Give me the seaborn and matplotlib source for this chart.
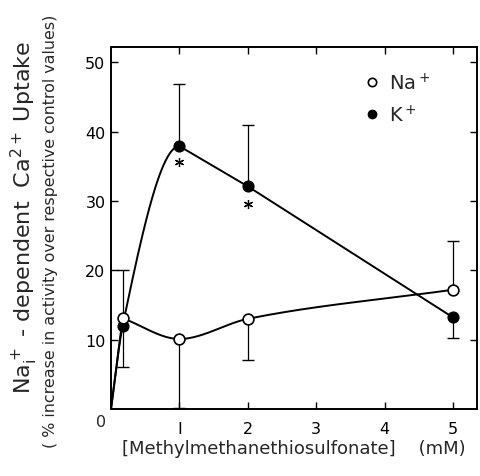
import numpy as np
import matplotlib
matplotlib.use("Agg")
import matplotlib.pyplot as plt
import seaborn as sns
from matplotlib.lines import Line2D

# ---- data ----
conc = [0.17, 1.0, 2.0, 5.0]
na_vals = [13.1, 10.1, 13.0, 17.2]
na_err_up = [6.9, 0.0, 0.0, 7.0]
na_err_down = [0.0, 10.0, 6.0, 0.0]
k_vals = [12.0, 37.9, 32.1, 13.2]
k_err_up = [0.0, 9.0, 8.8, 0.0]
k_err_down = [6.0, 0.0, 0.0, 3.0]
sig_x = [1.0, 2.0]
sig_y = [35.6, 29.5]
xticks = [1, 2, 3, 4, 5]
yticks = [10, 20, 30, 40, 50]


def pchip(x, y, xs):
    x = np.asarray(x, float); y = np.asarray(y, float)
    h = np.diff(x); d = np.diff(y) / h
    n = len(x); m = np.zeros(n)
    m[0] = d[0]; m[-1] = d[-1]
    for k in range(1, n - 1):
        if d[k - 1] * d[k] <= 0:
            m[k] = 0.0
        else:
            w1 = 2 * h[k] + h[k - 1]; w2 = h[k] + 2 * h[k - 1]
            m[k] = (w1 + w2) / (w1 / d[k - 1] + w2 / d[k])
    xs = np.asarray(xs, float)
    idx = np.clip(np.searchsorted(x, xs) - 1, 0, n - 2)
    t = (xs - x[idx]) / h[idx]
    h00 = 2 * t**3 - 3 * t**2 + 1; h10 = t**3 - 2 * t**2 + t
    h01 = -2 * t**3 + 3 * t**2; h11 = t**3 - t**2
    return h00 * y[idx] + h10 * h[idx] * m[idx] + h01 * y[idx + 1] + h11 * h[idx] * m[idx + 1]


sns.set_theme(style="ticks")
plt.rcParams["font.family"] = ["DejaVu Sans"]

fig = plt.figure(figsize=(4.8, 4.77), dpi=100)
ax = fig.add_axes([111 / 480, 1 - 410 / 477, 366 / 480, 362 / 477])

# K+ curve: smooth from origin to peak, straight afterwards
kx_all = [0.0] + conc
ky_all = [0.0] + k_vals
xs1 = np.linspace(0, conc[1], 200)
ys1 = pchip(kx_all, ky_all, xs1)
kx_line = np.concatenate([xs1, conc[2:]])
ky_line = np.concatenate([ys1, k_vals[2:]])
sns.lineplot(x=kx_line, y=ky_line, ax=ax, color="black", lw=1.4, sort=False, estimator=None)

# Na+ curve: straight from origin to first point, smooth afterwards
xs2 = np.linspace(conc[0], conc[-1], 300)
ys2 = pchip(conc, na_vals, xs2)
na_x_line = np.concatenate([[0.0], xs2])
na_y_line = np.concatenate([[0.0], ys2])
sns.lineplot(x=na_x_line, y=na_y_line, ax=ax, color="black", lw=1.4, sort=False, estimator=None)

# error bars (one-sided)
cap_ms = 9
for vals, up, dn in [(na_vals, na_err_up, na_err_down), (k_vals, k_err_up, k_err_down)]:
    v = np.array(vals); u = np.array(up); d = np.array(dn)
    ax.errorbar(conc, v, yerr=[d, u], fmt="none", ecolor="black", elinewidth=0.9, capsize=0, zorder=2)
    mu = u > 0; md = d > 0
    ax.plot(np.array(conc)[mu], (v + u)[mu], ls="none", marker="_", ms=cap_ms, mew=1.0, color="black", zorder=2)
    ax.plot(np.array(conc)[md], (v - d)[md], ls="none", marker="_", ms=cap_ms, mew=1.0, color="black", zorder=2)

# markers
sns.scatterplot(x=conc, y=k_vals, ax=ax, s=60, color="black", edgecolor="black", linewidth=1.0, zorder=4)
sns.scatterplot(x=conc, y=na_vals, ax=ax, s=60, color="white", edgecolor="black", linewidth=1.2, zorder=5)

# significance asterisks
ax.plot(sig_x, sig_y, ls="none", marker=(6, 2, 0), ms=6.5, mew=0.9, color="black")

ax.set_xlim(0, 5.35)
ax.set_ylim(0, 52.2)
ax.set_xticks(xticks)
ax.set_xticklabels(["I", "2", "3", "4", "5"])
ax.set_yticks(yticks)
ax.tick_params(direction="in", top=True, right=True, length=5, width=1.0,
               labelsize=11.5, colors="black", pad=4)
ax.tick_params(axis="x", pad=9)
for s in ax.spines.values():
    s.set_linewidth(1.4)
    s.set_color("black")
ax.text(-0.012, -0.015, "0", transform=ax.transAxes, ha="right", va="top", fontsize=11.5)

# legend
handles = [Line2D([], [], ls="none", marker="o", ms=6, mfc="white", mec="black", mew=1.2),
           Line2D([], [], ls="none", marker="o", ms=6, mfc="black", mec="black")]
ax.legend(handles, ["Na$^+$", "K$^+$"], loc="upper left", bbox_to_anchor=(0.64, 0.98),
          frameon=False, fontsize=14, handletextpad=0.35, labelspacing=0.55, handlelength=1.0)

ax.set_xlabel("[Methylmethanethiosulfonate]    (mM)", fontsize=13, labelpad=2)

fig.text(24 / 480, 1 - 217 / 477, r"Na$_\mathrm{i}^+$ - dependent  Ca$^{2+}$ Uptake",
         rotation=90, ha="center", va="center", fontsize=16)
fig.text(51 / 480, 1 - 231 / 477, "( % increase in activity over respective control values)",
         rotation=90, ha="center", va="center", fontsize=11.4)

fig.savefig("out.png", dpi=100)
